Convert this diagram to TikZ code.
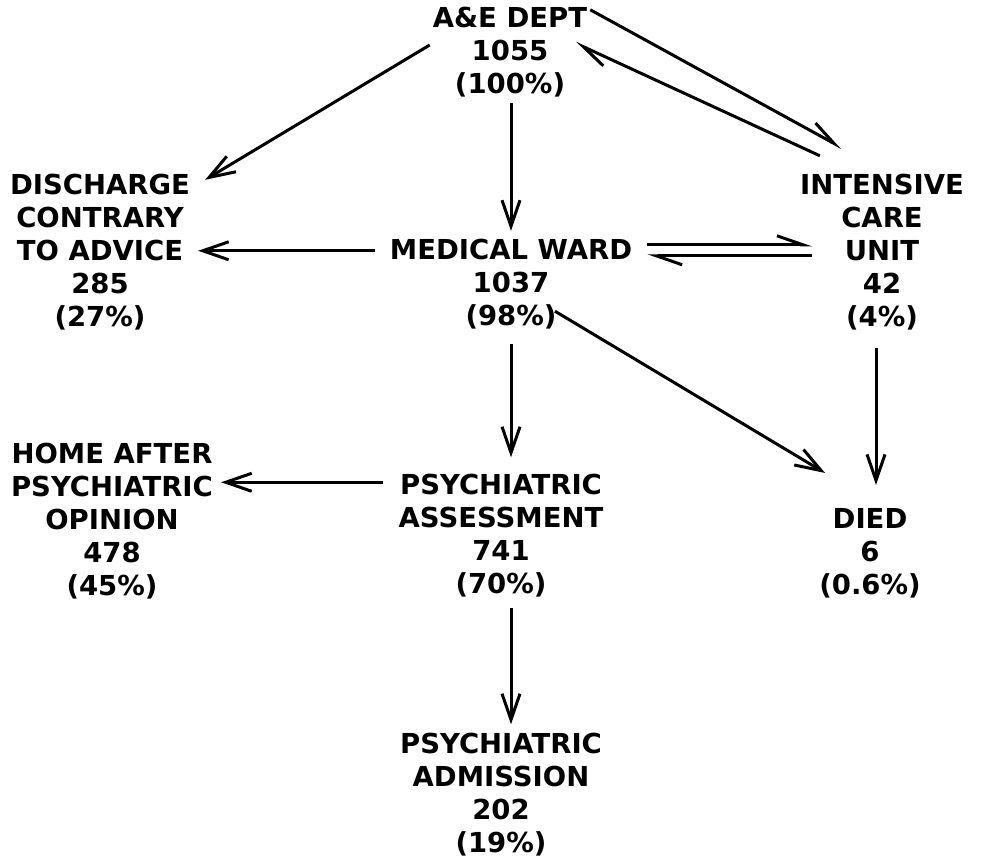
\documentclass[tikz,border=0pt]{standalone}
\usepackage{fontspec}
\setmainfont{DejaVu Sans}
\usetikzlibrary{positioning, calc, arrows.meta}

\tikzset{
  ward/.style={align=center, inner sep=0pt, font=\bfseries\fontsize{27.5}{33}\selectfont},
  flow/.style={-{Straight Barb[length=26pt,width=18pt]}, line width=3pt},
  half/.style={-{Straight Barb[left,length=26pt,width=18pt]}, line width=3pt}
}

\begin{document}
\begin{tikzpicture}[x=1pt, y=-1pt]
  \useasboundingbox (0,0) rectangle (981,861);

  % Draw places
  \node[ward] (ae)  at (510,52)  {A\&E DEPT\\1055\\(100\%)};
  \node[ward] (dis) at (100,252) {DISCHARGE\\CONTRARY\\TO ADVICE\\285\\(27\%)};
  \node[ward] (med) at (511,284) {MEDICAL WARD\\1037\\(98\%)};
  \node[ward] (icu) at (882,252) {INTENSIVE\\CARE\\UNIT\\42\\(4\%)};
  \node[ward] (home) at (112,521) {HOME AFTER\\PSYCHIATRIC\\OPINION\\478\\(45\%)};
  \node[ward] (assess) at (501,536) {PSYCHIATRIC\\ASSESSMENT\\741\\(70\%)};
  \node[ward] (died) at (870,553) {DIED\\6\\(0.6\%)};
  \node[ward] (adm) at (501,795) {PSYCHIATRIC\\ADMISSION\\202\\(19\%)};

  % Draw flows
  \draw[flow] ($(ae.west)+(-3,-7)$) -- ($(dis.north east)+(15,6)$);
  \draw[flow] ($(ae.south)+(1,6)$) -- ($(med.north)+(0,-8)$);
  \draw[half] ($(ae.north east)+(3,3)$) -- ($(icu.north west)+(42,-26)$);
  \draw[half] ($(icu.north west)+(20,-18)$) -- ($(ae.east)+(-12,-9)$);
  \draw[flow] ($(med.north west)+(-15,12)$) -- ($(dis.east |- med.north)+(8,12)$);
  \draw[half] ($(med.north east)+(15,6)$) -- ($(icu.west |- med.north)+(12,6)$);
  \draw[half] ($(icu.west |- med.north)+(12,17)$) -- ($(med.north east)+(15,17)$);
  \draw[flow] ($(med.south)+(44,-18)$) -- ($(died.north west)+(6,-35)$);
  \draw[flow] ($(med.south)+(0,15)$) -- ($(assess.north -| med.south)+(0,-17)$);
  \draw[flow] ($(died.north -| icu.south)+(-6,-160)$) -- ($(died.north -| icu.south)+(-6,-23)$);
  \draw[flow] ($(assess.north west)+(-15,8)$) -- ($(home.east |- assess.north)+(8,8)$);
  \draw[flow] ($(assess.south)+(10,10)$) -- ($(adm.north)+(10,-9)$);
\end{tikzpicture}
\end{document}
